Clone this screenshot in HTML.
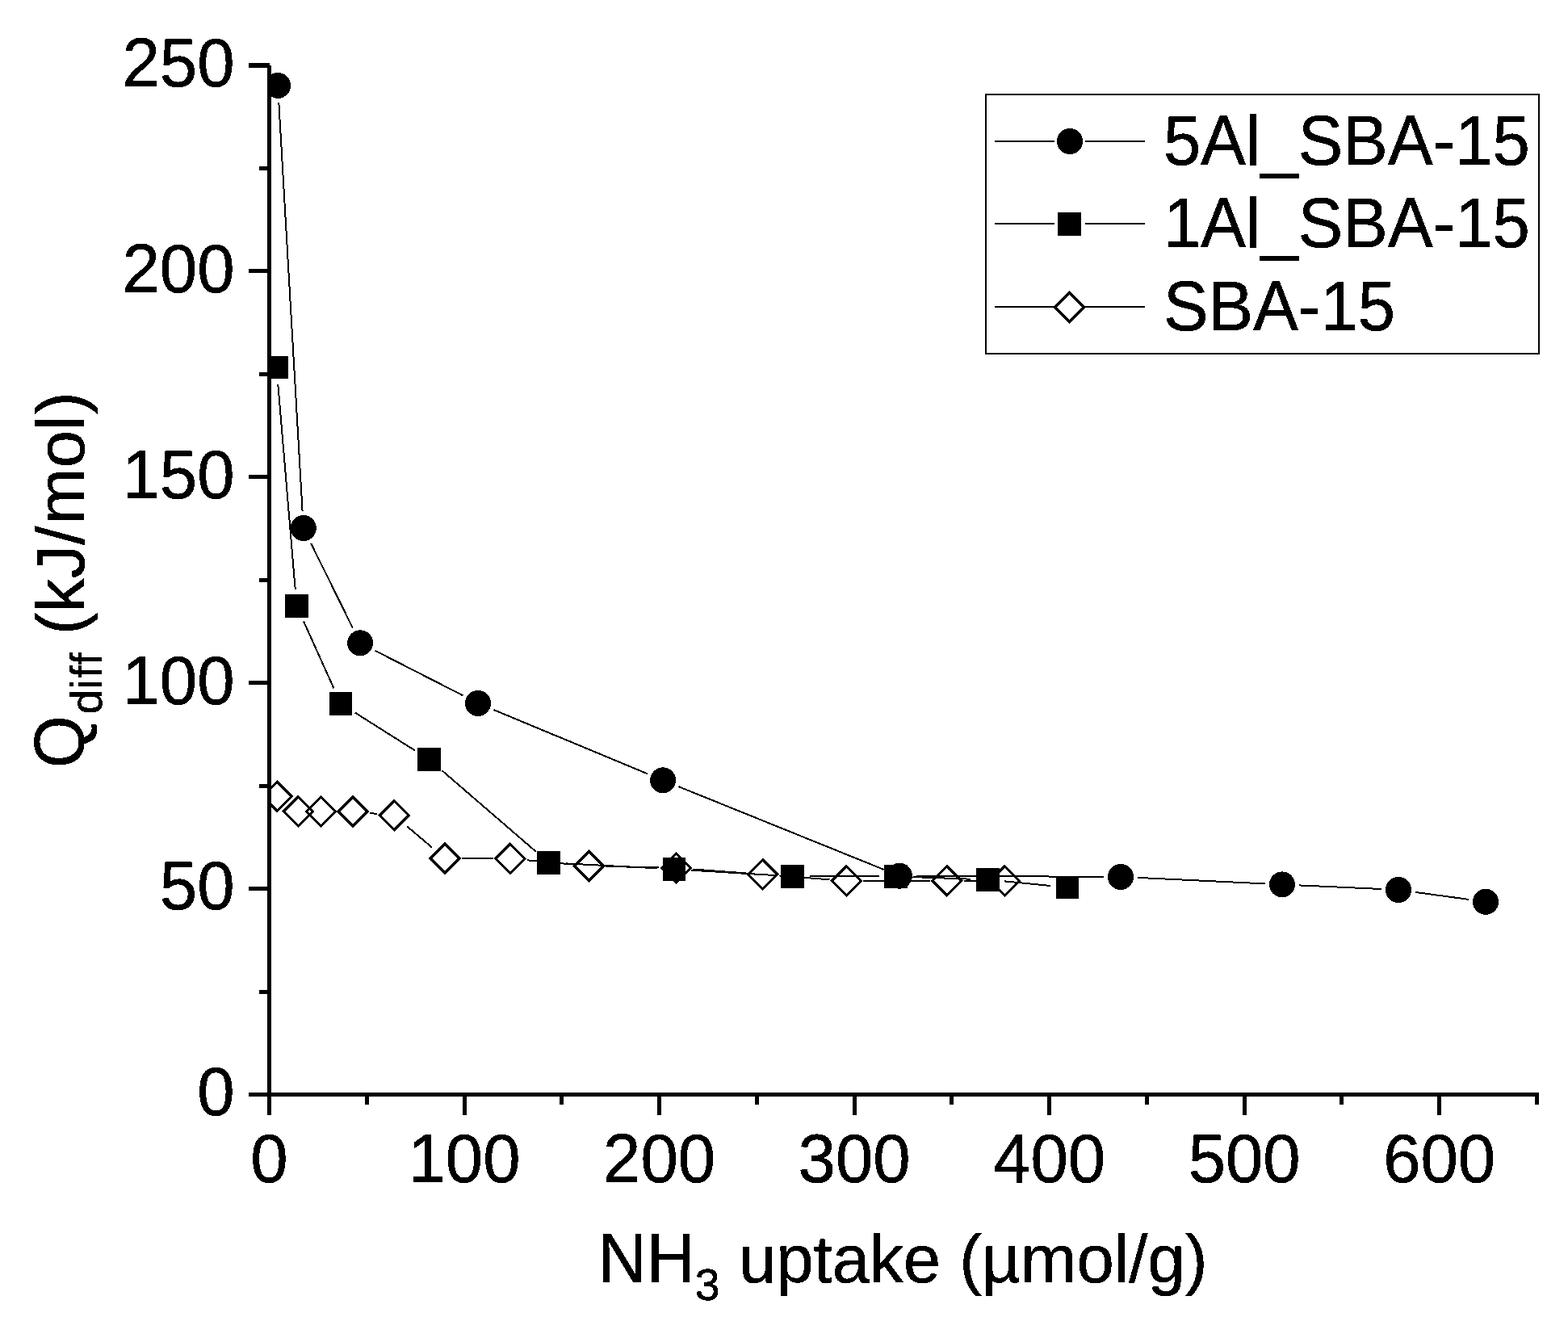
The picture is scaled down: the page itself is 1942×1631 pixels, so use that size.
<!DOCTYPE html>
<html lang="en"><head><meta charset="utf-8"><title>Differential heat of NH3 adsorption</title>
<style>
html,body{margin:0;padding:0;background:#fff;}
body{width:1942px;height:1631px;overflow:hidden;}
svg{display:block;}
text{font-family:"Liberation Sans",sans-serif;font-size:83.33px;fill:#000;stroke:#000;stroke-width:0.5px;stroke-linejoin:round;}
.sub{font-size:55.5px;}
.cap{font-size:86.66px;}
.ln line{stroke:#000;stroke-width:2;}
.dm path{fill:#000;fill-rule:evenodd;}
</style></head><body>
<svg width="1942" height="1631" viewBox="0 0 1942 1631">
<rect width="1942" height="1631" fill="#fff"/>
<defs><filter id="bw" x="0" y="0" width="1942" height="1631" filterUnits="userSpaceOnUse" color-interpolation-filters="sRGB"><feComponentTransfer><feFuncA type="discrete" tableValues="0 1"/></feComponentTransfer></filter></defs>
<defs><clipPath id="plot"><rect x="333.5" y="0" width="1608.5" height="1355.5"/></clipPath></defs>
<g clip-path="url(#plot)" shape-rendering="crispEdges">
<g class="ln"><line x1="345.3" y1="126.9" x2="374.6" y2="633.0" stroke-width="2.30"/><line x1="385.1" y1="672.8" x2="436.8" y2="777.5" stroke-width="2.46"/><line x1="464.8" y1="805.9" x2="573.3" y2="861.3" stroke-width="2.46"/><line x1="611.4" y1="879.0" x2="801.7" y2="958.2" stroke-width="2.46"/><line x1="840.6" y1="974.2" x2="1094.4" y2="1076.8" stroke-width="2.46"/><line x1="1134.9" y1="1084.8" x2="1367.0" y2="1085.8" stroke-width="2.25"/><line x1="1409.0" y1="1086.9" x2="1567.0" y2="1094.4" stroke-width="2.29"/><line x1="1609.0" y1="1096.4" x2="1711.0" y2="1101.0" stroke-width="2.29"/><line x1="1752.8" y1="1104.9" x2="1819.2" y2="1113.9" stroke-width="2.36"/><line x1="344.3" y1="475.9" x2="365.7" y2="729.6" stroke-width="2.33"/><line x1="376.1" y1="769.6" x2="413.4" y2="852.3" stroke-width="2.46"/><line x1="439.8" y1="882.6" x2="513.7" y2="929.3" stroke-width="2.44"/><line x1="547.4" y1="954.2" x2="663.7" y2="1054.6" stroke-width="2.36"/><line x1="700.6" y1="1069.4" x2="814.0" y2="1075.3" stroke-width="2.30"/><line x1="856.0" y1="1077.7" x2="960.6" y2="1084.1" stroke-width="2.31"/><line x1="1002.6" y1="1085.4" x2="1088.5" y2="1085.4" stroke-width="2.25"/><line x1="1130.5" y1="1086.1" x2="1202.5" y2="1088.7" stroke-width="2.28"/><line x1="1244.4" y1="1091.4" x2="1301.2" y2="1097.0" stroke-width="2.34"/><line x1="458.0" y1="1007.0" x2="467.2" y2="1007.9" stroke-width="2.33"/><line x1="504.1" y1="1023.4" x2="534.9" y2="1049.4" stroke-width="2.36"/><line x1="571.9" y1="1063.1" x2="610.9" y2="1063.3" stroke-width="2.25"/><line x1="652.8" y1="1065.3" x2="708.6" y2="1070.5" stroke-width="2.33"/><line x1="750.5" y1="1072.9" x2="816.4" y2="1074.5" stroke-width="2.27"/><line x1="858.3" y1="1076.5" x2="923.7" y2="1081.4" stroke-width="2.32"/><line x1="965.5" y1="1084.5" x2="1027.5" y2="1089.3" stroke-width="2.32"/><line x1="1069.4" y1="1090.9" x2="1151.8" y2="1090.9" stroke-width="2.25"/><line x1="1193.8" y1="1090.9" x2="1223.4" y2="1090.9" stroke-width="2.25"/></g>
<g class="dm"><path d="M322.9 986.4L343.2 966.1L363.5 986.4L343.2 1006.7ZM327.4 986.4L343.2 970.6L359.0 986.4L343.2 1002.2Z"/><path d="M349.1 1004.9L369.4 984.6L389.7 1004.9L369.4 1025.2ZM353.6 1004.9L369.4 989.1L385.2 1004.9L369.4 1020.7Z"/><path d="M377.2 1004.9L397.5 984.6L417.8 1004.9L397.5 1025.2ZM381.7 1004.9L397.5 989.1L413.3 1004.9L397.5 1020.7Z"/><path d="M416.8 1005.1L437.1 984.8L457.4 1005.1L437.1 1025.4ZM421.3 1005.1L437.1 989.3L452.9 1005.1L437.1 1020.9Z"/><path d="M467.8 1009.8L488.1 989.5L508.4 1009.8L488.1 1030.1ZM472.3 1009.8L488.1 994.0L503.9 1009.8L488.1 1025.6Z"/><path d="M530.6 1063.0L550.9 1042.7L571.2 1063.0L550.9 1083.3ZM535.1 1063.0L550.9 1047.2L566.7 1063.0L550.9 1078.8Z"/><path d="M611.6 1063.4L631.9 1043.1L652.2 1063.4L631.9 1083.7ZM616.1 1063.4L631.9 1047.6L647.7 1063.4L631.9 1079.2Z"/><path d="M709.2 1072.4L729.5 1052.1L749.8 1072.4L729.5 1092.7ZM713.7 1072.4L729.5 1056.6L745.3 1072.4L729.5 1088.2Z"/><path d="M817.1 1075.0L837.4 1054.7L857.7 1075.0L837.4 1095.3ZM821.6 1075.0L837.4 1059.2L853.2 1075.0L837.4 1090.8Z"/><path d="M924.3 1082.9L944.6 1062.6L964.9 1082.9L944.6 1103.2ZM928.8 1082.9L944.6 1067.1L960.4 1082.9L944.6 1098.7Z"/><path d="M1028.1 1090.9L1048.4 1070.6L1068.7 1090.9L1048.4 1111.2ZM1032.6 1090.9L1048.4 1075.1L1064.2 1090.9L1048.4 1106.7Z"/><path d="M1152.5 1090.9L1172.8 1070.6L1193.1 1090.9L1172.8 1111.2ZM1157.0 1090.9L1172.8 1075.1L1188.6 1090.9L1172.8 1106.7Z"/><path d="M1224.1 1090.9L1244.4 1070.6L1264.7 1090.9L1244.4 1111.2ZM1228.6 1090.9L1244.4 1075.1L1260.2 1090.9L1244.4 1106.7Z"/></g>
<g fill="#000"><rect x="328" y="441" width="29" height="28"/><rect x="353" y="736" width="29" height="29"/><rect x="408" y="857" width="28" height="29"/><rect x="517" y="926" width="29" height="29"/><rect x="665" y="1054" width="29" height="29"/><rect x="821" y="1062" width="28" height="29"/><rect x="967" y="1071" width="29" height="29"/><rect x="1095" y="1071" width="29" height="29"/><rect x="1209" y="1075" width="29" height="29"/><rect x="1308" y="1085" width="28" height="28"/></g>
<g fill="#000"><circle cx="344.1" cy="105.9" r="16.0"/><circle cx="375.8" cy="654.0" r="16.0"/><circle cx="446.1" cy="796.3" r="16.0"/><circle cx="592.0" cy="870.9" r="16.0"/><circle cx="821.1" cy="966.3" r="16.0"/><circle cx="1113.9" cy="1084.7" r="16.0"/><circle cx="1388.0" cy="1085.9" r="16.0"/><circle cx="1588.0" cy="1095.4" r="16.0"/><circle cx="1732.0" cy="1102.0" r="16.0"/><circle cx="1840.0" cy="1116.8" r="16.0"/></g>
</g>
<g fill="#000" shape-rendering="crispEdges">
<rect x="331.0" y="81.0" width="5" height="1300.0"/>
<rect x="331.0" y="1353.0" width="1572.5" height="5"/>
<rect x="308.0" y="1353.0" width="23.0" height="5"/>
<rect x="321.0" y="1226.0" width="10.0" height="5"/>
<rect x="308.0" y="1098.0" width="23.0" height="5"/>
<rect x="321.0" y="971.0" width="10.0" height="5"/>
<rect x="308.0" y="843.0" width="23.0" height="5"/>
<rect x="321.0" y="716.0" width="10.0" height="5"/>
<rect x="308.0" y="588.0" width="23.0" height="5"/>
<rect x="321.0" y="461.0" width="10.0" height="5"/>
<rect x="308.0" y="333.0" width="23.0" height="5"/>
<rect x="321.0" y="206.0" width="10.0" height="5"/>
<rect x="308.0" y="78.0" width="25.5" height="6"/>
<rect x="452" y="1358.0" width="5" height="10.0"/>
<rect x="573" y="1358.0" width="5" height="23.0"/>
<rect x="693" y="1358.0" width="5" height="10.0"/>
<rect x="814" y="1358.0" width="5" height="23.0"/>
<rect x="935" y="1358.0" width="5" height="10.0"/>
<rect x="1056" y="1358.0" width="5" height="23.0"/>
<rect x="1176" y="1358.0" width="5" height="10.0"/>
<rect x="1297" y="1358.0" width="5" height="23.0"/>
<rect x="1418" y="1358.0" width="5" height="10.0"/>
<rect x="1539" y="1358.0" width="5" height="23.0"/>
<rect x="1659" y="1358.0" width="5" height="10.0"/>
<rect x="1780" y="1358.0" width="5" height="23.0"/>
<rect x="1901" y="1353.0" width="5" height="15.0"/>
</g>
<g filter="url(#bw)">
<g text-anchor="end">
<text transform="translate(290.5 1381.3) scale(1 1.032)">0</text>
<text transform="translate(290.5 1126.4) scale(1 1.032)">50</text>
<text transform="translate(290.5 871.5) scale(1 1.032)">100</text>
<text transform="translate(290.5 616.6) scale(1 1.032)">150</text>
<text transform="translate(290.5 361.7) scale(1 1.032)">200</text>
<text transform="translate(290.5 106.8) scale(1 1.032)">250</text>
</g>
<g text-anchor="middle">
<text transform="translate(333.5 1464) scale(1 1.032)">0</text>
<text transform="translate(575.0 1464) scale(1 1.032)">100</text>
<text transform="translate(816.6 1464) scale(1 1.032)">200</text>
<text transform="translate(1058.1 1464) scale(1 1.032)">300</text>
<text transform="translate(1299.7 1464) scale(1 1.032)">400</text>
<text transform="translate(1541.2 1464) scale(1 1.032)">500</text>
<text transform="translate(1782.7 1464) scale(1 1.032)">600</text>
</g>
<text x="740.5" y="1588"><tspan class="cap" textLength="120.36" lengthAdjust="spacingAndGlyphs">NH</tspan><tspan class="sub" dy="22">3</tspan><tspan dy="-22"> uptake (µmol/g)</tspan></text>
<text transform="translate(104 0) rotate(-90)" x="-950.9" y="0"><tspan class="cap" textLength="64.82" lengthAdjust="spacingAndGlyphs">Q</tspan><tspan class="sub" dy="22" dx="1.6 0 1.5 1.6">diff</tspan><tspan dy="-22" dx="-0.8 0 0 0 0 2.4 0.6 -0.5 2"> (kJ/mol)</tspan></text>
</g>
<g shape-rendering="crispEdges">
<rect x="1221" y="117" width="685" height="321" fill="#fff" stroke="#000" stroke-width="2"/>
<g class="ln">
<line x1="1232" y1="175" x2="1306" y2="175"/><line x1="1344" y1="175" x2="1418" y2="175"/>
<line x1="1232" y1="277" x2="1306" y2="277"/><line x1="1344" y1="277" x2="1418" y2="277"/>
<line x1="1232" y1="380" x2="1306" y2="380"/><line x1="1343" y1="380" x2="1418" y2="380"/>
</g>
<g fill="#000"><circle cx="1325.0" cy="175.0" r="16.0"/><rect x="1310.0" y="263.0" width="29.0" height="29.0"/></g>
<g class="dm"><path d="M1304.2 380.5L1324.5 360.2L1344.8 380.5L1324.5 400.8ZM1308.7 380.5L1324.5 364.7L1340.3 380.5L1324.5 396.3Z"/></g>
</g>
<g filter="url(#bw)">
<text transform="translate(1441 204.3) scale(1 1.048)">5Al_SBA-15</text>
<text transform="translate(1441 306.3) scale(1 1.048)">1Al_SBA-15</text>
<text transform="translate(1441 409.2) scale(1 1.048)">SBA-15</text>
</g>
</svg></body></html>
